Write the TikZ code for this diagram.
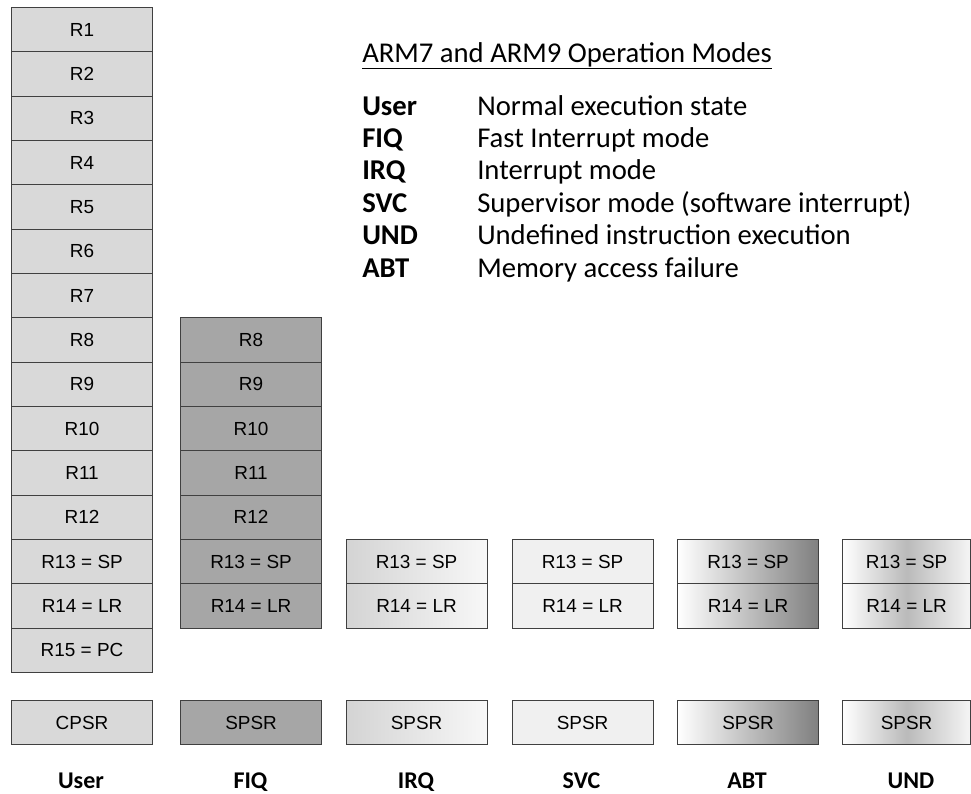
\documentclass[tikz,border=0pt]{standalone}
\usepackage{fontspec}
\setmainfont{Carlito}
\newfontfamily\regfont{Liberation Sans}
\usepackage{tikz}

\definecolor{userfill}{HTML}{D9D9D9}
\definecolor{fiqfill}{HTML}{A6A6A6}
\definecolor{edge}{HTML}{404040}

\tikzset{
  reg/.style={draw=edge, line width=0.8pt, anchor=north west, inner sep=0pt,
    minimum width=105.75pt, minimum height=33.25pt, font=\regfont\fontsize{14.2pt}{16pt}\selectfont},
  irqshade/.style={left color=black!17, right color=black!3},
  svcshade/.style={fill=black!6},
  abtshade/.style={left color=white, right color=black!50},
  undshade/.style={minimum width=96pt, left color=white, right color=black!4, middle color=black!27},
  modename/.style={anchor=base, inner sep=0pt, font=\bfseries\fontsize{18pt}{21pt}\selectfont},
  legend/.style={anchor=base west, font=\fontsize{21.5pt}{24pt}\selectfont, inner sep=0pt}
}

\begin{document}
\begin{tikzpicture}[x=0.75pt, y=-0.75pt]
	\useasboundingbox (0,0) rectangle (971,793);

	% user registers
	\foreach \i/\t in {1/R1,2/R2,3/R3,4/R4,5/R5,6/R6,7/R7,8/R8,9/R9,10/R10,11/R11,12/R12,13/R13 = SP,14/R14 = LR,15/R15 = PC}
		\node[reg, fill=userfill] (user\i) at (11, {7+(\i-1)*44.33}) {\t};

	% fiq banked registers
	\foreach \i/\t in {8/R8,9/R9,10/R10,11/R11,12/R12,13/R13 = SP,14/R14 = LR}
		\node[reg, fill=fiqfill] (fiq\i) at (180, {7+(\i-1)*44.33}) {\t};

	% other modes
	\node[reg, irqshade] (irq13) at (345.5,539) {R13 = SP};
	\node[reg, irqshade] (irq14) at (345.5,583.3) {R14 = LR};
	\node[reg, svcshade] (svc13) at (511.5,539) {R13 = SP};
	\node[reg, svcshade] (svc14) at (511.5,583.3) {R14 = LR};
	\node[reg, abtshade] (abt13) at (677,539) {R13 = SP};
	\node[reg, abtshade] (abt14) at (677,583.3) {R14 = LR};
	\node[reg, undshade] (und13) at (842,539) {R13 = SP};
	\node[reg, undshade] (und14) at (842,583.3) {R14 = LR};

	% status registers
	\node[reg, fill=userfill] (cpsr) at (11,700) {CPSR};
	\node[reg, fill=fiqfill] (fiqspsr) at (180,700) {SPSR};
	\node[reg, irqshade] (irqspsr) at (345.5,700) {SPSR};
	\node[reg, svcshade] (svcspsr) at (511.5,700) {SPSR};
	\node[reg, abtshade] (abtspsr) at (677,700) {SPSR};
	\node[reg, undshade] (undspsr) at (842,700) {SPSR};

	% mode names
	\node[modename] (nuser) at (81,788) {User};
	\node[modename] (nfiq) at (250.5,788) {FIQ};
	\node[modename] (nirq) at (416,788) {IRQ};
	\node[modename] (nsvc) at (581.5,788) {SVC};
	\node[modename] (nabt) at (747,788) {ABT};
	\node[modename] (nund) at (911,788) {UND};

	% legend
	\node[legend] (title) at (362,62) {\underline{ARM7 and ARM9 Operation Modes}};
	\foreach \k/\m/\d in {0/User/Normal execution state,1/FIQ/Fast Interrupt mode,2/IRQ/Interrupt mode,
		3/SVC/Supervisor mode (software interrupt),4/UND/Undefined instruction execution,5/ABT/Memory access failure}
	{
		\node[legend, font=\bfseries\fontsize{21.5pt}{24pt}\selectfont] (key\k) at (362,{115+\k*32.4}) {\m};
		\node[legend] (desc\k) at (477,{115+\k*32.4}) {\d};
	}
\end{tikzpicture}
\end{document}
